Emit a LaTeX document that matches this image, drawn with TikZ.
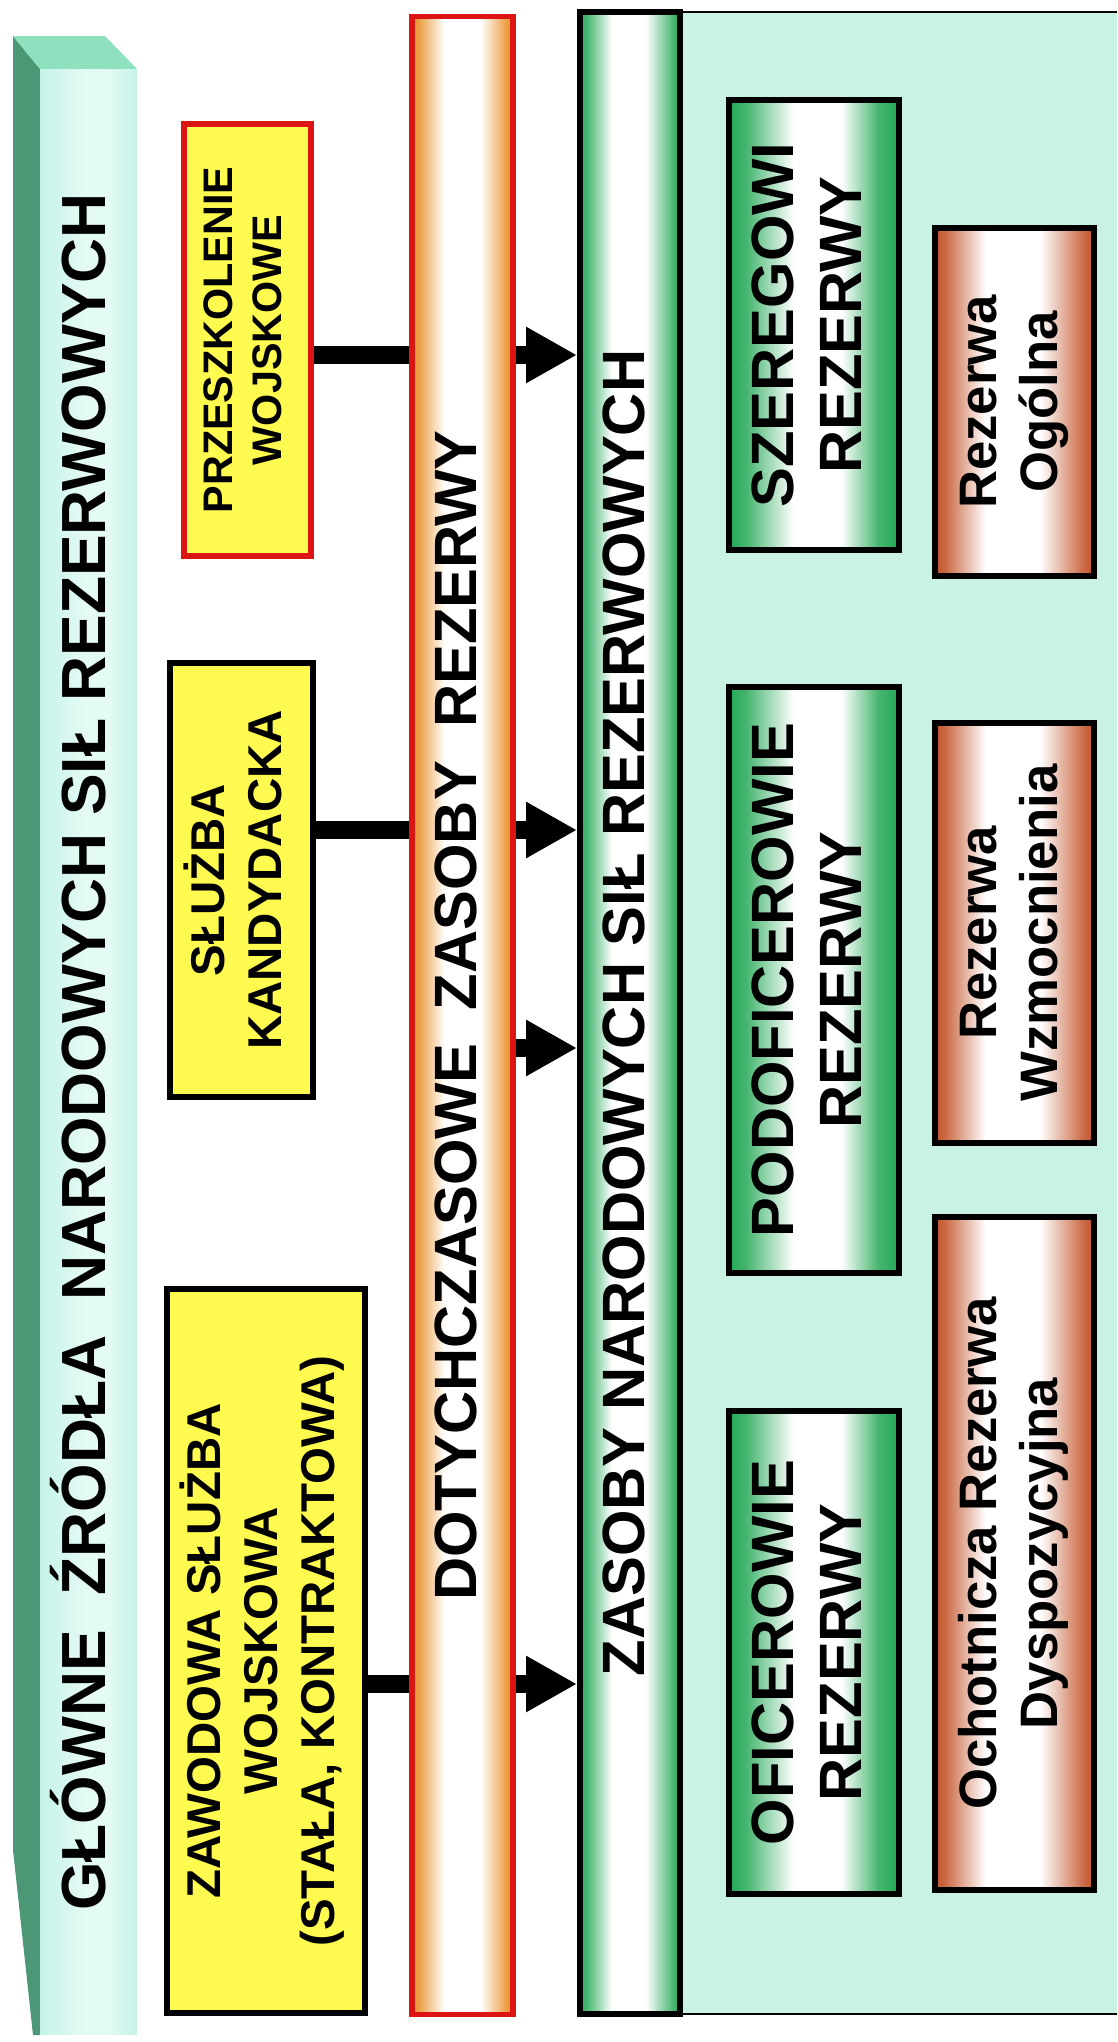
\documentclass[tikz,border=0pt]{standalone}
\usepackage{fontspec}
\setmainfont{Liberation Sans}
\usepackage{graphicx}
\usetikzlibrary{arrows.meta}

\definecolor{ylw}{RGB}{255,250,80}
\definecolor{grn}{RGB}{36,168,86}
\definecolor{orng}{RGB}{234,146,44}
\definecolor{brn}{RGB}{196,86,44}
\definecolor{pnl}{RGB}{200,242,225}
\definecolor{mint}{RGB}{196,243,232}
\definecolor{mintdark}{RGB}{76,152,118}
\definecolor{minttop}{RGB}{142,224,190}
\definecolor{redline}{RGB}{220,20,20}

\pgfdeclarehorizontalshading{grnbox}{100bp}{color(0bp)=(grn); color(25bp)=(grn); color(30bp)=(grn!85); color(44bp)=(white); color(58bp)=(white); color(69bp)=(grn!85); color(75bp)=(grn); color(100bp)=(grn)}
\pgfdeclarehorizontalshading{grnbar}{100bp}{color(0bp)=(grn); color(25bp)=(grn); color(29bp)=(grn!80); color(41bp)=(white); color(58bp)=(white); color(71bp)=(grn!80); color(75bp)=(grn); color(100bp)=(grn)}
\pgfdeclarehorizontalshading{brnbox}{100bp}{color(0bp)=(brn); color(25bp)=(brn); color(28bp)=(brn!90); color(41bp)=(white); color(58bp)=(white); color(72bp)=(brn!90); color(75bp)=(brn); color(100bp)=(brn)}
\pgfdeclarehorizontalshading{orngbar}{100bp}{color(0bp)=(orng); color(25bp)=(orng); color(28bp)=(orng!90); color(41bp)=(white); color(59bp)=(white); color(72bp)=(orng!90); color(75bp)=(orng); color(100bp)=(orng)}
\pgfdeclarehorizontalshading{mintbar}{100bp}{color(0bp)=(mint); color(25bp)=(mint); color(48bp)=(white!55!mint); color(60bp)=(white!55!mint); color(75bp)=(mint); color(100bp)=(mint)}

% text turned to read upwards
\newcommand{\vtxt}[1]{\rotatebox{90}{\begin{tabular}{@{}c@{}}#1\end{tabular}}}

\begin{document}
\begin{tikzpicture}[x=0.02cm,y=-0.02cm,
    frm/.style={draw=black,line width=3.4pt,inner sep=0pt},
    ybox/.style={frm,fill=ylw,font=\bfseries\fontsize{27}{32.5}\selectfont},
    gbox/.style={frm,shade,shading=grnbox,font=\bfseries\fontsize{34}{39}\selectfont},
    bbox/.style={frm,shade,shading=brnbox,font=\bfseries\fontsize{30}{35}\selectfont},
    feed/.style={line width=10pt},
    flowarr/.style={line width=10pt,-{Triangle[length=29pt,width=30pt]}}
  ]
    \useasboundingbox (0,0) rectangle (1117,2042);

    % title bar
    \fill[mintdark] (13,36) -- (40,69) -- (40,2035) -- (33,2035) -- (13,1850) -- cycle;
    \fill[minttop] (13,36) -- (105,36) -- (137,69) -- (40,69) -- cycle;
    \node[inner sep=0pt,shade,shading=mintbar,
        minimum width=1.94cm,minimum height=39.32cm,
        font=\bfseries\fontsize{35.5}{40}\selectfont] (ttl) at (88.5,1052)
        {\vtxt{GŁÓWNE~~ŹRÓDŁA~~NARODOWYCH SIŁ REZERWOWYCH}};

    % sources
    \node[ybox,draw=redline,font=\bfseries\fontsize{23.5}{28}\selectfont,
        minimum width=2.54cm,minimum height=8.64cm] (prz) at (247.5,340)
        {\vtxt{PRZESZKOLENIE\\WOJSKOWE}};
    \node[ybox,minimum width=2.86cm,minimum height=8.68cm] (skd) at (241.5,880)
        {\vtxt{SŁUŻBA\\KANDYDACKA}};
    \node[ybox,minimum width=3.96cm,minimum height=14.48cm] (zsw) at (266,1651)
        {\vtxt{ZAWODOWA SŁUŻBA\\WOJSKOWA\\(STAŁA, KONTRAKTOWA)}};

    % reserve resources
    \node[draw=redline,line width=3pt,inner sep=0pt,shade,shading=orngbar,
        minimum width=2.02cm,minimum height=39.98cm,
        font=\bfseries\fontsize{34}{40}\selectfont] (dz) at (462.5,1015.5)
        {\vtxt{DOTYCHCZASOWE~~ZASOBY~~REZERWY}};

    \fill[pnl] (680,12) rectangle (1117,2014);
    \draw[line width=1.2pt] (580,12) -- (1117,12) (580,2014) -- (1117,2014);
    \node[frm,shade,shading=grnbar,minimum width=2.0cm,minimum height=40.04cm,
        font=\bfseries\fontsize{34}{40}\selectfont] (zs) at (630,1013)
        {\vtxt{ZASOBY NARODOWYCH SIŁ REZERWOWYCH}};

    % ranks
    \node[gbox,minimum width=3.4cm,minimum height=9.0cm] (szr) at (814,325)
        {\vtxt{SZEREGOWI\\REZERWY}};
    \node[gbox,minimum width=3.4cm,minimum height=11.72cm] (pdf) at (814,980)
        {\vtxt{PODOFICEROWIE\\REZERWY}};
    \node[gbox,minimum width=3.4cm,minimum height=9.66cm] (ofc) at (814,1652.5)
        {\vtxt{OFICEROWIE\\REZERWY}};

    % reserve kinds
    \node[bbox,minimum width=3.18cm,minimum height=6.96cm] (rog) at (1014.5,402)
        {\vtxt{Rezerwa\\Ogólna}};
    \node[bbox,minimum width=3.18cm,minimum height=8.4cm] (rwz) at (1014.5,933)
        {\vtxt{Rezerwa\\Wzmocnienia}};
    \node[bbox,minimum width=3.18cm,minimum height=13.46cm] (ord) at (1014.5,1553.5)
        {\vtxt{Ochotnicza Rezerwa\\Dyspozycyjna}};

    % connectors
    \coordinate (r1) at (0,355);
    \coordinate (r2) at (0,830);
    \coordinate (r3) at (0,1048);
    \coordinate (r4) at (0,1684);

    \draw[feed] (prz.east |- r1) -- (dz.west |- r1);
    \draw[feed] (skd.east |- r2) -- (dz.west |- r2);
    \draw[feed] (zsw.east |- r4) -- (dz.west |- r4);
    \foreach \r in {r1,r2,r3,r4}
        \draw[flowarr] (dz.east |- \r) -- (zs.west |- \r);
\end{tikzpicture}
\end{document}
